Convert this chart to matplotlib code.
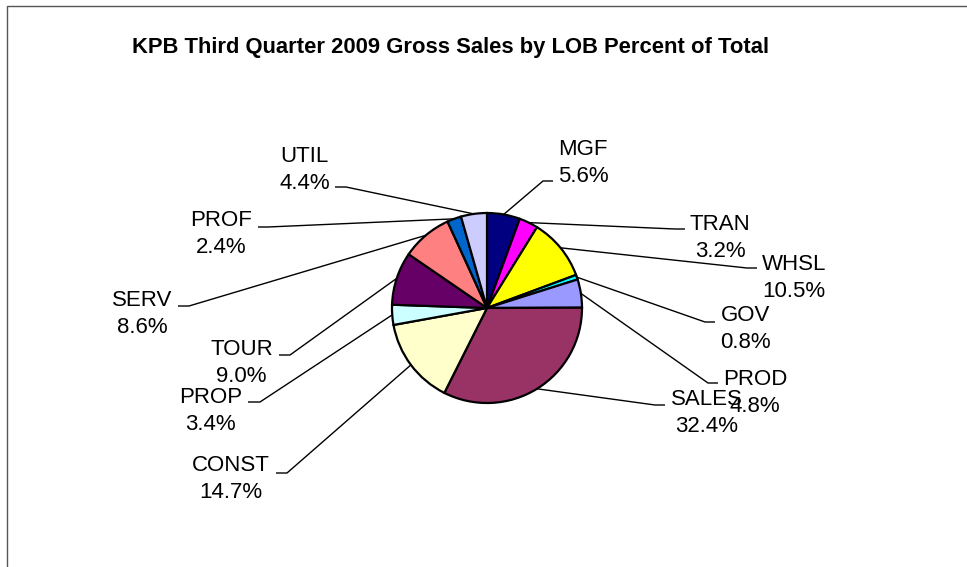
import matplotlib
matplotlib.use('Agg')
import matplotlib.pyplot as plt
import numpy as np

# Dados: vendas brutas por LOB (% do total), 3º trimestre 2009
categorias = ['MGF', 'TRAN', 'WHSL', 'GOV', 'PROD', 'SALES',
              'CONST', 'PROP', 'TOUR', 'SERV', 'PROF', 'UTIL']
percentuais = [5.6, 3.2, 10.5, 0.8, 4.8, 32.4, 14.7, 3.4, 9.0, 8.6, 2.4, 4.4]
cores = ['#000080', '#FF00FF', '#FFFF00', '#00FFFF', '#9999FF', '#993366',
         '#FFFFCC', '#CCFFFF', '#660066', '#FF8080', '#0066CC', '#CCCCFF']

titulo = 'KPB Third Quarter 2009 Gross Sales by LOB Percent of Total'

# ----------------------------------------------------------------------------
# Layout (em pixels, y medido a partir do topo da imagem)
# ----------------------------------------------------------------------------
W, H = 967, 567
cx, cy, raio = 487, 308, 95

# cotovelo da linha guia (x, y), ponta da linha (x) e lado do rótulo
guias = {
    'MGF':   (543, 181, 553, 'r'),
    'TRAN':  (675, 229, 685, 'r'),
    'WHSL':  (747, 268, 757, 'r'),
    'GOV':   (705, 322, 715, 'r'),
    'PROD':  (708, 383, 718, 'r'),
    'SALES': (655, 405, 665, 'r'),
    'CONST': (287, 473, 276, 'l'),
    'PROP':  (260, 402, 248, 'l'),
    'TOUR':  (290, 355, 279, 'l'),
    'SERV':  (189, 306, 178, 'l'),
    'PROF':  (268, 227, 258, 'l'),
    'UTIL':  (346, 187, 335, 'l'),
}
# posição do texto: borda do bloco (x) e linha de base da última linha (y)
textos = {
    'MGF':   (558, 182), 'TRAN': (690, 257), 'WHSL': (762, 297),
    'GOV':   (720, 348), 'PROD': (723, 412), 'SALES': (671, 432),
    'CONST': (270, 498), 'PROP': (242, 430), 'TOUR': (273, 382),
    'SERV':  (172, 333), 'PROF': (252, 253), 'UTIL': (330, 189),
}

plt.rcParams['font.family'] = ['Liberation Sans', 'DejaVu Sans']

fig = plt.figure(figsize=(W / 100, H / 100), dpi=100)
ax = fig.add_axes([0, 0, 1, 1])

wedges, _ = ax.pie(percentuais, colors=cores, startangle=90, counterclock=False,
                   center=(cx, H - cy), radius=raio, frame=True,
                   wedgeprops=dict(edgecolor='black', linewidth=1.6))

ax.set_xlim(0, W)
ax.set_ylim(0, H)
ax.set_aspect('equal')
ax.axis('off')

# Rótulos com linhas guia
for w, nome, pct in zip(wedges, categorias, percentuais):
    ang = np.deg2rad((w.theta1 + w.theta2) / 2)
    x0 = cx + raio * np.cos(ang)
    y0 = (H - cy) + raio * np.sin(ang)
    ex, ey, px, lado = guias[nome]
    ax.plot([x0, ex, px], [y0, H - ey, H - ey], color='black', lw=1.0,
            solid_capstyle='butt')
    tx, ty = textos[nome]
    ax.text(tx, H - ty, f'{nome}\n{pct:.1f}%', fontsize=16,
            ha='left' if lado == 'r' else 'right', va='baseline',
            multialignment='center', linespacing=1.38)

# Título
ax.text(450, H - 53, titulo, fontsize=15.8, fontweight='bold',
        ha='center', va='baseline')

# Moldura (borda superior e esquerda)
ax.plot([7, 7, W], [0, H - 5.7, H - 5.7], color='#555555', lw=1.0)

fig.savefig('out.png', dpi=100)
